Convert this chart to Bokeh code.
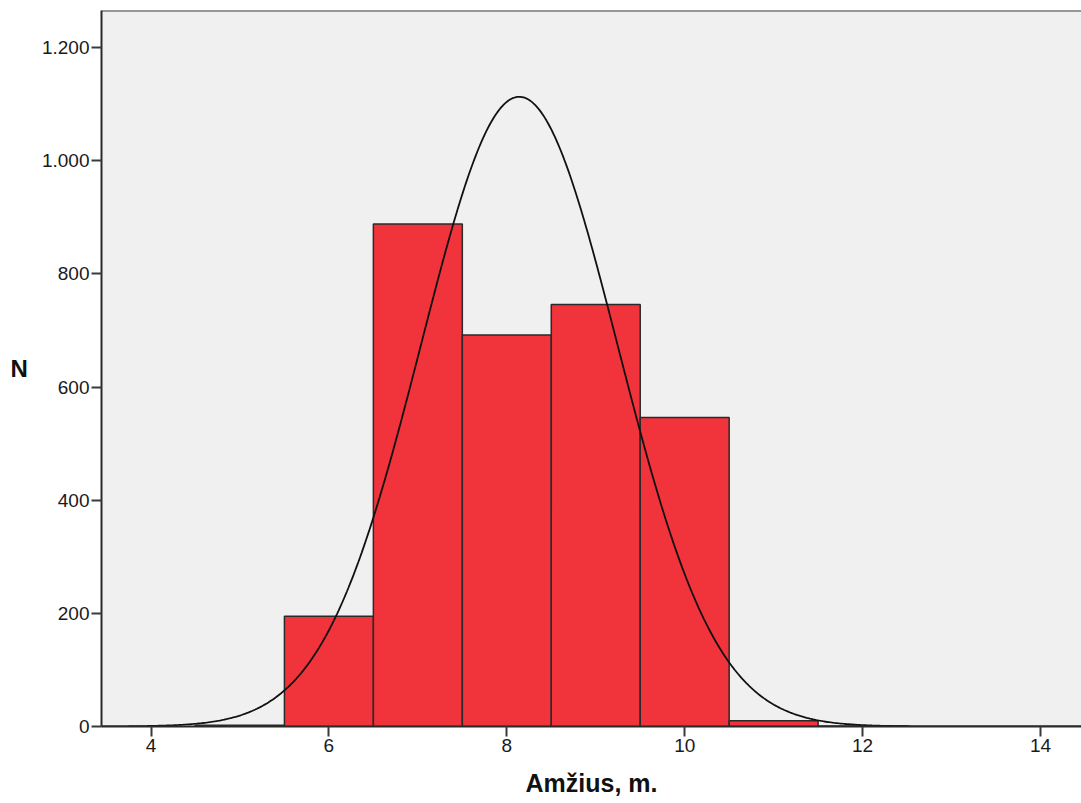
import numpy as np
from bokeh.plotting import figure
from bokeh.models import FixedTicker, Range1d, Span
from bokeh.embed import file_html
from bokeh.resources import INLINE

# --- data ---
bin_centers = [5, 6, 7, 8, 9, 10, 11, 12]
counts = [2, 195, 888, 692, 746, 546, 10, 1]
bin_width = 1.0
curve_mean = 8.14
curve_sd = 1.104
x_ticks = [4, 6, 8, 10, 12, 14]
y_ticks = [0, 200, 400, 600, 800, 1000, 1200]
y_tick_labels = ["0", "200", "400", "600", "800", "1.000", "1.200"]
x_title = "Amžius, m."
y_title = "N"

FONT = "Liberation Sans"
X0, X1 = 3.4435, 14.461
Y1 = 1265.5

p = figure(width=1081, height=803, output_backend="svg", toolbar_location=None,
           x_range=Range1d(X0, X1), y_range=Range1d(0, Y1),
           min_border_left=101, min_border_right=0, min_border_top=10, min_border_bottom=77)

p.background_fill_color = "#F0F0F0"
p.border_fill_color = "white"
p.outline_line_color = None
p.xgrid.visible = False
p.ygrid.visible = False

left = [c - bin_width / 2 for c in bin_centers]
right = [c + bin_width / 2 for c in bin_centers]
p.quad(left=left, right=right, bottom=0, top=counts,
       fill_color="#F1333B", line_color="#2a2a2a", line_width=1.5)

n_total = sum(counts)
xs = np.linspace(X0, X1, 600)
ys = n_total * bin_width * np.exp(-0.5 * ((xs - curve_mean) / curve_sd) ** 2) / (curve_sd * np.sqrt(2 * np.pi))
p.line(xs, ys, line_color="#111111", line_width=1.8)

# top border of the frame
p.add_layout(Span(location=Y1, dimension="width", line_color="#3c3c3c", line_width=2))

for ax in (p.xaxis[0], p.yaxis[0]):
    ax.axis_line_color = "#2a2a2a"
    ax.axis_line_width = 2
    ax.major_tick_line_color = "#3a3a3a"
    ax.major_tick_line_width = 2
    ax.major_tick_in = 0
    ax.major_tick_out = 10
    ax.minor_tick_line_color = None
    ax.major_label_text_font = FONT
    ax.major_label_text_font_size = "19px"
    ax.major_label_text_color = "#1a1a1a"
    ax.major_label_standoff = 2
    ax.axis_label_text_font = FONT
    ax.axis_label_text_font_style = "bold"
    ax.axis_label_text_color = "#111111"

p.xaxis[0].ticker = FixedTicker(ticks=x_ticks)
p.yaxis[0].ticker = FixedTicker(ticks=y_ticks)
p.yaxis[0].major_label_overrides = {t: s for t, s in zip(y_ticks, y_tick_labels)}

p.yaxis[0].axis_label = y_title
p.yaxis[0].axis_label_orientation = "horizontal"
p.yaxis[0].axis_label_text_font_size = "24px"
p.yaxis[0].axis_label_standoff = 11

p.xaxis[0].axis_label = x_title
p.xaxis[0].axis_label_text_font_size = "25px"
p.xaxis[0].axis_label_standoff = 14

open("out.html", "w").write(file_html(p, INLINE))
